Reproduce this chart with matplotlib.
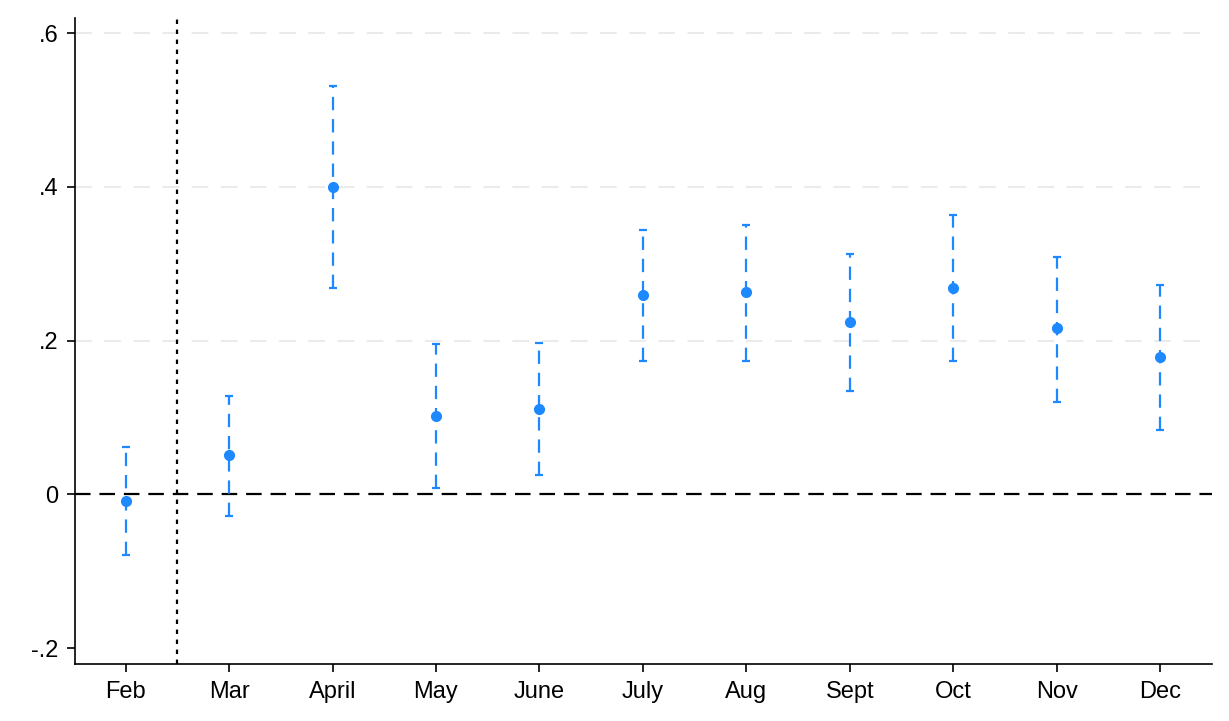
import numpy as np
import matplotlib as mpl
mpl.use('Agg')
import matplotlib.pyplot as plt

months = ["Feb", "Mar", "April", "May", "June", "July", "Aug", "Sept", "Oct", "Nov", "Dec"]
coef = [-0.009, 0.051, 0.400, 0.102, 0.111, 0.259, 0.263, 0.224, 0.269, 0.216, 0.179]
ci_low = [-0.079, -0.028, 0.268, 0.008, 0.025, 0.174, 0.174, 0.135, 0.174, 0.120, 0.084]
ci_high = [0.062, 0.128, 0.531, 0.195, 0.197, 0.344, 0.350, 0.313, 0.363, 0.309, 0.273]

yticks = [-0.2, 0, 0.2, 0.4, 0.6]
ytick_labels = ["-.2", "0", ".2", ".4", ".6"]

blue = "#1E88FF"

plt.rcParams['font.family'] = ['Liberation Sans', 'DejaVu Sans']

fig = plt.figure(figsize=(12.29, 7.21), dpi=100)
ax = fig.add_axes([0.061, 0.079, 0.925, 0.896])

x = np.arange(len(months))
coef = np.asarray(coef)
low = coef - np.asarray(ci_low)
high = np.asarray(ci_high) - coef

# gridlines
for yv in [0.2, 0.4, 0.6]:
    ax.axhline(yv, color="#ebebeb", lw=1.5, ls=(0, (8, 6)), zorder=0)

ax.axhline(0, color="black", lw=1.6, ls=(0, (7, 4)), zorder=1)
ax.axvline(0.5, color="black", lw=1.6, ls=(0, (2, 2.5)), zorder=1)

eb = ax.errorbar(x, coef, yerr=[low, high], fmt="o", color=blue, ms=7,
                 ecolor=blue, elinewidth=1.6, capsize=2.6, capthick=1.6, zorder=3)
eb[2][0].set_linestyle((0, (6, 4)))

ax.set_xlim(-0.49, 10.5)
ax.set_ylim(-0.2208, 0.6198)
ax.set_xticks(x)
ax.set_xticklabels(months)
ax.set_yticks(yticks)
ax.set_yticklabels(ytick_labels)
ax.tick_params(axis="both", labelsize=17, length=6, width=1.2, direction="out", pad=6)
for s in ["top", "right"]:
    ax.spines[s].set_visible(False)
for s in ["left", "bottom"]:
    ax.spines[s].set_linewidth(1.2)

plt.savefig("out.png", dpi=100)
